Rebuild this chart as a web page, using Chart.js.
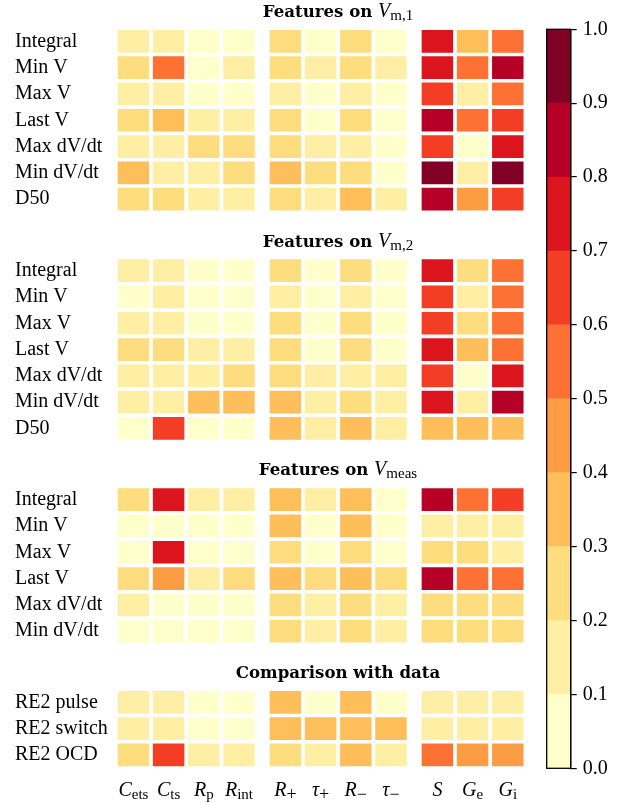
<!DOCTYPE html>
<html><head><meta charset="utf-8">
<script src="https://cdn.jsdelivr.net/npm/chart.js@4/dist/chart.umd.min.js"></script>
<style>
html,body{margin:0;padding:0;background:#fff;}
body{width:624px;height:803px;position:relative;overflow:hidden;}
canvas{position:absolute;}
</style></head><body>
<canvas id="p1" width="540" height="220" style="left:0;top:0"></canvas>
<canvas id="p2" width="540" height="225" style="left:0;top:220px"></canvas>
<canvas id="p3" width="540" height="205" style="left:0;top:445px"></canvas>
<canvas id="p4" width="540" height="153" style="left:0;top:650px"></canvas>
<canvas id="cb" width="94" height="803" style="left:530px;top:0"></canvas>
<script>
// ---- data ----
const columnLabels = [['C','ets'],['C','ts'],['R','p'],['R','int'],['R','+'],['τ','+'],['R','−'],['τ','−'],['S',''],['G','e'],['G','i']];
const columnGroups = [0,0,0,0,1,1,1,1,2,2,2];

const rowsVm1 = ['Integral','Min V','Max V','Last V','Max dV/dt','Min dV/dt','D50'];
const valuesVm1 = [
 [0.15,0.15,0.05,0.05, 0.25,0.05,0.25,0.05, 0.75,0.35,0.55],
 [0.25,0.55,0.05,0.15, 0.25,0.15,0.25,0.15, 0.75,0.55,0.85],
 [0.15,0.15,0.05,0.05, 0.15,0.05,0.15,0.05, 0.65,0.15,0.55],
 [0.25,0.35,0.15,0.15, 0.25,0.05,0.25,0.05, 0.85,0.55,0.65],
 [0.15,0.15,0.25,0.25, 0.25,0.15,0.15,0.05, 0.65,0.05,0.75],
 [0.35,0.15,0.15,0.25, 0.35,0.25,0.25,0.05, 0.95,0.15,0.95],
 [0.25,0.25,0.15,0.15, 0.25,0.15,0.35,0.15, 0.85,0.45,0.65]
];
const rowsVm2 = ['Integral','Min V','Max V','Last V','Max dV/dt','Min dV/dt','D50'];
const valuesVm2 = [
 [0.15,0.15,0.05,0.05, 0.25,0.05,0.25,0.05, 0.75,0.25,0.55],
 [0.05,0.15,0.05,0.05, 0.15,0.05,0.15,0.05, 0.65,0.15,0.55],
 [0.15,0.15,0.05,0.05, 0.25,0.05,0.25,0.05, 0.65,0.25,0.55],
 [0.25,0.25,0.15,0.15, 0.25,0.05,0.25,0.05, 0.75,0.35,0.55],
 [0.15,0.15,0.15,0.25, 0.25,0.15,0.15,0.15, 0.65,0.05,0.75],
 [0.15,0.15,0.35,0.35, 0.35,0.15,0.25,0.15, 0.75,0.15,0.85],
 [0.05,0.65,0.05,0.05, 0.35,0.15,0.35,0.15, 0.35,0.35,0.35]
];
const rowsVmeas = ['Integral','Min V','Max V','Last V','Max dV/dt','Min dV/dt'];
const valuesVmeas = [
 [0.25,0.75,0.15,0.15, 0.35,0.15,0.35,0.05, 0.85,0.55,0.65],
 [0.05,0.05,0.05,0.05, 0.35,0.05,0.35,0.05, 0.15,0.15,0.15],
 [0.05,0.75,0.05,0.05, 0.25,0.05,0.25,0.05, 0.25,0.25,0.15],
 [0.25,0.45,0.15,0.25, 0.35,0.25,0.35,0.25, 0.85,0.55,0.55],
 [0.15,0.05,0.05,0.05, 0.25,0.15,0.25,0.15, 0.25,0.25,0.25],
 [0.05,0.05,0.05,0.05, 0.25,0.15,0.25,0.15, 0.25,0.25,0.25]
];
const rowsData = ['RE2 pulse','RE2 switch','RE2 OCD'];
const valuesData = [
 [0.15,0.15,0.05,0.05, 0.35,0.05,0.35,0.05, 0.15,0.15,0.15],
 [0.15,0.15,0.05,0.05, 0.35,0.35,0.35,0.35, 0.15,0.15,0.15],
 [0.25,0.65,0.15,0.15, 0.25,0.15,0.35,0.15, 0.55,0.45,0.45]
];
const colorbarTicks = [0,0.1,0.2,0.3,0.4,0.5,0.6,0.7,0.8,0.9,1.0];
const levelColors = ['#ffffcc','#ffefa5','#fedd7f','#febf5a','#fd9d43','#fd7134','#f43d25','#db141e','#b60026','#800026'];

// ---- helpers ----
const GROUP_GAP = 0.318, INSET = 0.053;
const SERIF = '"Liberation Serif"';
function colorOf(v){ return levelColors[Math.max(0, Math.min(9, Math.floor(v*10 + 1e-9)))]; }
function colStart(j){ return j + columnGroups[j]*GROUP_GAP; }

function drawRich(ctx, parts, cx, baseline){
  let total = 0;
  parts.forEach(p => { ctx.font = p.font; p.w = ctx.measureText(p.text).width; total += p.w; });
  let x = cx - total/2;
  ctx.save();
  ctx.textAlign = 'left'; ctx.textBaseline = 'alphabetic'; ctx.fillStyle = '#000';
  parts.forEach(p => { ctx.font = p.font; ctx.fillText(p.text, x, baseline + (p.dy||0)); x += p.w; });
  ctx.restore();
}
const TITLE_FONT = 'bold 16.6px "DejaVu Serif"';
function titleParts(main, v, sub){
  const parts = [{text:main, font:TITLE_FONT}];
  if (v) parts.push({text:v, font:'italic 20px '+SERIF});
  if (sub) parts.push({text:sub, font:'15px '+SERIF, dy:3});
  return parts;
}
function titlePlugin(parts, y){
  return { id:'panelTitle', afterDraw(chart){ drawRich(chart.ctx, parts, 338, y); } };
}
const colLabelPlugin = (y) => ({
  id:'colLabels',
  afterDraw(chart){
    const xs = chart.scales.x;
    columnLabels.forEach((lab, j) => {
      const cx = xs.getPixelForValue(colStart(j) + 0.5);
      const parts = [{text:lab[0], font:'italic 20px '+SERIF}];
      const sign = lab[1] === '+' || lab[1] === '−';
      if (lab[1]) parts.push({text:lab[1], font:(sign ? '18px ' : '15px ')+SERIF, dy:sign ? 4 : 3.5});
      drawRich(chart.ctx, parts, cx, y);
    });
  }
});

function heatmap(id, rows, values, cfg){
  const datasets = columnLabels.map((lab, j) => ({
    label: lab.join(''),
    data: rows.map(() => [colStart(j) + INSET, colStart(j) + 1 - INSET]),
    backgroundColor: ctx => colorOf(values[ctx.dataIndex][j]),
    grouped: false, borderWidth: 0, categoryPercentage: 1, barPercentage: 0.863
  }));
  const plugins = [titlePlugin(cfg.title, cfg.titleY)];
  if (cfg.colY) plugins.push(colLabelPlugin(cfg.colY));
  return new Chart(document.getElementById(id), {
    type:'bar',
    data:{labels: rows, datasets},
    options:{
      indexAxis:'y', responsive:false, animation:false, events:[],
      layout:{padding:{left:15, right:14.6, top:cfg.top, bottom:cfg.bottom}},
      plugins:{legend:{display:false}, tooltip:{enabled:false}, title:{display:false}},
      scales:{
        x:{type:'linear', display:false, min:0, max:11 + 2*GROUP_GAP},
        y:{type:'category', grid:{display:false}, border:{display:false},
           ticks:{crossAlign:'far', color:'#000', autoSkip:false, padding:0, font:{family:'Liberation Serif', size:20}},
           afterFit: s => { s.width = 100.8; s.paddingTop = 0; s.paddingBottom = 0; }}
      }
    },
    plugins
  });
}

heatmap('p1', rowsVm1, valuesVm1, {title:titleParts('Features on ','V','m,1'), titleY:17.3, top:28.2, bottom:7.7});
heatmap('p2', rowsVm2, valuesVm2, {title:titleParts('Features on ','V','m,2'), titleY:26.7, top:37.5, bottom:3.4});
heatmap('p3', rowsVmeas, valuesVmeas, {title:titleParts('Features on ','V','meas'), titleY:30, top:41.5, bottom:5.7});
heatmap('p4', rowsData, valuesData, {title:titleParts('Comparison with data'), titleY:28, top:39.2, bottom:34.9, colY:145.7});

// ---- colorbar ----
new Chart(document.getElementById('cb'), {
  type:'bar',
  data:{labels:[''], datasets: levelColors.map((c,k) => ({
    data:[[colorbarTicks[k], colorbarTicks[k+1]]], backgroundColor:c, grouped:false,
    borderWidth:0, categoryPercentage:1, barPercentage:1 }))},
  options:{
    responsive:false, animation:false, events:[],
    layout:{padding:{left:16.7, top:29.3, bottom:34.7, right:0}},
    plugins:{legend:{display:false}, tooltip:{enabled:false}},
    scales:{
      x:{display:false},
      y:{position:'right', min:0, max:1,
         afterBuildTicks: s => { s.ticks = colorbarTicks.map(v => ({value:v})); },
         ticks:{callback: v => Number(v).toFixed(1), color:'#000', padding:6, font:{family:'Liberation Serif', size:20}},
         grid:{drawOnChartArea:false, drawTicks:true, tickLength:6, color:'#000', lineWidth:1.2},
         border:{display:true, color:'#000', width:1.3},
         afterFit: s => { s.width = 53.3; s.paddingTop = 0; s.paddingBottom = 0; }}
    }
  },
  plugins:[{id:'box', afterDraw(chart){
    const a = chart.chartArea, ctx = chart.ctx;
    ctx.save(); ctx.strokeStyle = '#000'; ctx.lineWidth = 1.3;
    ctx.strokeRect(a.left, a.top, a.right - a.left, a.bottom - a.top);
    ctx.restore();
  }}]
});
</script>
</body></html>
